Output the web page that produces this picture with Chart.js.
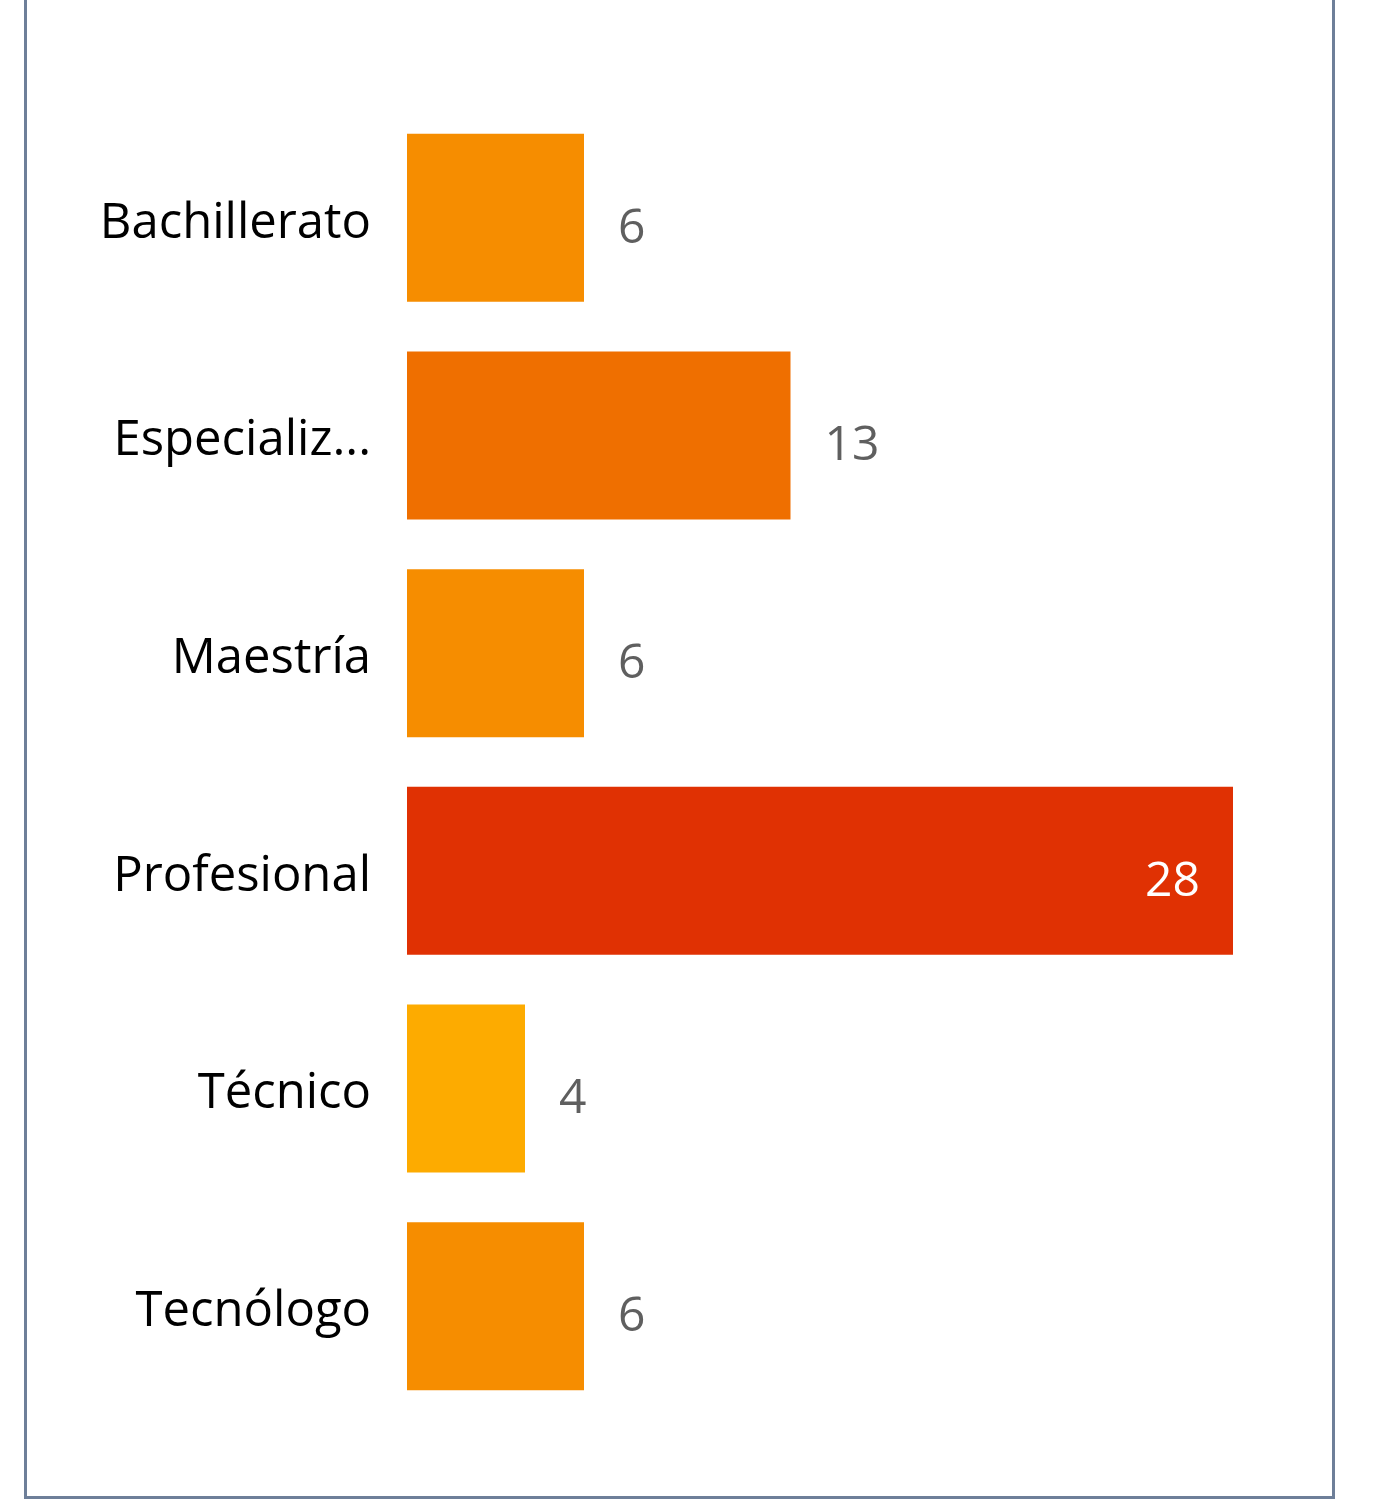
<!DOCTYPE html>
<html>
<head>
<meta charset="utf-8">
<script src="https://cdn.jsdelivr.net/npm/chart.js@4"></script>
<style>
    html, body {
        margin: 0;
        padding: 0;
        background: #ffffff;
    }
    #wrap {
        position: relative;
        width: 1382px;
        height: 1508px;
    }
    #frame {
        position: absolute;
        left: 24px;
        top: -10px;
        width: 1305px;
        height: 1506px;
        border: 3px solid #6E7F99;
        border-top: none;
        box-sizing: content-box;
    }
    #chart {
        position: absolute;
        left: 0;
        top: 0;
    }
</style>
</head>
<body>
<div id="wrap">
    <div id="frame"></div>
    <canvas id="chart" width="1382" height="1508"></canvas>
</div>
<script>
const categories = ["Bachillerato", "Especialización", "Maestría", "Profesional", "Técnico", "Tecnólogo"];
const counts = [6, 13, 6, 28, 4, 6];
const barColors = ["#F68D00", "#EF6F00", "#F68D00", "#E03103", "#FDAB00", "#F68D00"];

const fontFamily = "'Open Sans', 'Noto Sans', sans-serif";

// Value labels next to (or inside) each bar
const valueLabels = {
    id: "valueLabels",
    afterDatasetsDraw(chart) {
        const ctx = chart.ctx;
        const meta = chart.getDatasetMeta(0);
        const maxVal = Math.max(...counts);
        ctx.save();
        ctx.font = "48px " + fontFamily;
        ctx.textBaseline = "middle";
        meta.data.forEach((bar, i) => {
            const v = counts[i];
            if (v === maxVal) {
                ctx.fillStyle = "#ffffff";
                ctx.textAlign = "right";
                ctx.fillText(String(v), bar.x - 33, bar.y + 11);
            } else {
                ctx.fillStyle = "#5F5F5F";
                ctx.textAlign = "left";
                ctx.fillText(String(v), bar.x + 34, bar.y + 11);
            }
        });
        ctx.restore();
    }
};

new Chart(document.getElementById("chart"), {
    type: "bar",
    data: {
        labels: categories,
        datasets: [{
            data: counts,
            backgroundColor: barColors,
            borderWidth: 0,
            barPercentage: 0.772,
            categoryPercentage: 1
        }]
    },
    options: {
        indexAxis: "y",
        responsive: false,
        animation: false,
        layout: {
            padding: { top: 109, bottom: 93, left: 0, right: 149 }
        },
        plugins: {
            legend: { display: false },
            tooltip: { enabled: false }
        },
        scales: {
            x: {
                display: false,
                min: 0,
                max: 28
            },
            y: {
                grid: { display: false },
                border: { display: false },
                afterFit(scale) {
                    scale.width = 407;
                },
                ticks: {
                    padding: 28,
                    labelOffset: 6,
                    color: "#000000",
                    font: { size: 49, family: fontFamily },
                    callback: function (value) {
                        const label = this.getLabelForValue(value);
                        return label.length > 12 ? label.slice(0, 10) + "..." : label;
                    }
                }
            }
        }
    },
    plugins: [valueLabels]
});
</script>
</body>
</html>
